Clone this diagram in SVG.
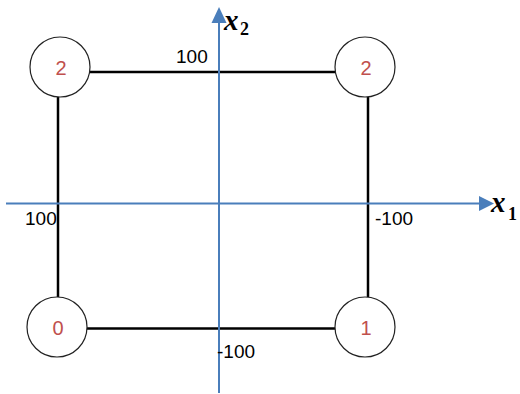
<svg xmlns="http://www.w3.org/2000/svg" width="520" height="394" viewBox="0 0 520 394">
<style>
.edge{stroke:#000;stroke-width:2.5;fill:none}
.axis{stroke:#4a7ebb;stroke-width:2;fill:none}
.node circle{fill:#fff;stroke:#222;stroke-width:1.2}
.node text{font-family:"Liberation Sans",Arial,sans-serif;font-size:20px;fill:#c0504d;text-anchor:middle}
.lbl{font-family:"Liberation Sans",Arial,sans-serif;font-size:19px;fill:#000}
.ax{font-family:"Liberation Serif","Times New Roman",serif;font-style:italic;font-weight:bold;font-size:29px;fill:#000}
.sub{font-family:"Liberation Serif","Times New Roman",serif;font-weight:bold;font-size:18px;fill:#000}
.head{fill:#4a7ebb}
</style>
<g id="connectors">
<line class="edge" x1="90" y1="72" x2="335" y2="72"/>
<line class="edge" x1="58" y1="97" x2="58" y2="297"/>
<line class="edge" x1="368" y1="97" x2="368" y2="297"/>
<line class="edge" x1="87" y1="328.5" x2="335" y2="328.5"/>
</g>
<g id="axes">
<line class="axis" x1="219" y1="393" x2="219" y2="20"/>
<polygon class="head" points="219,7 211.5,23 226.5,23"/>
<line class="axis" x1="6" y1="203.5" x2="482" y2="203.5"/>
<polygon class="head" points="494,203.5 479,196 479,211"/>
</g>
<g id="n2a" class="node"><circle cx="60" cy="67" r="30"/><text x="61" y="75">2</text></g>
<g id="n2b" class="node"><circle cx="365" cy="67" r="30"/><text x="366" y="75">2</text></g>
<g id="n0" class="node"><circle cx="57" cy="327" r="30"/><text x="58" y="335">0</text></g>
<g id="n1" class="node"><circle cx="365" cy="327" r="30"/><text x="366" y="335">1</text></g>
<g id="labels">
<text class="lbl" x="176" y="63">100</text>
<text class="lbl" x="25" y="225">100</text>
<text class="lbl" x="375" y="225">-100</text>
<text class="lbl" x="217" y="358">-100</text>
<text class="ax" x="224" y="30">x</text><text class="sub" x="240" y="35">2</text>
<text class="ax" x="491" y="212">x</text><text class="sub" x="508" y="220">1</text>
</g>
</svg>
